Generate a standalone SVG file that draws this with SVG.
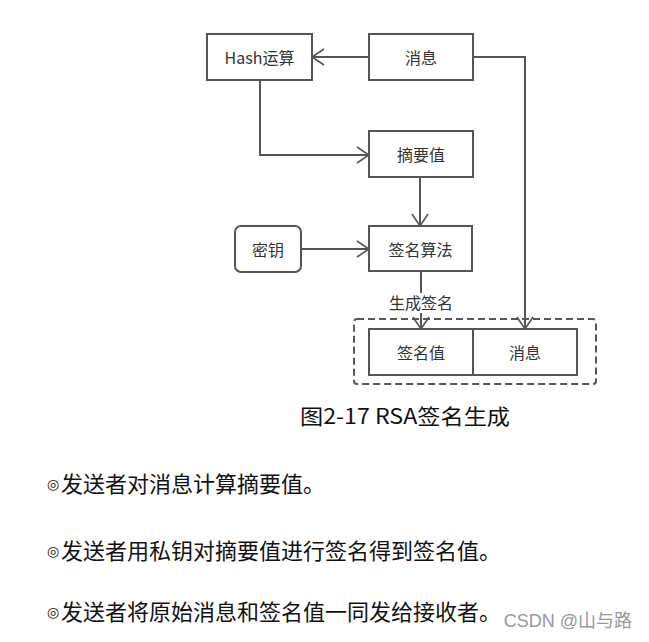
<svg xmlns="http://www.w3.org/2000/svg" width="649" height="642" viewBox="0 0 649 642">
<defs>
<style>
.box{fill:#fff;stroke:#555;stroke-width:2}
.lbl{font-family:"Noto Sans CJK SC","Noto Sans",sans-serif;font-size:16px;fill:#333;text-anchor:middle;dominant-baseline:central}
.ln{fill:none;stroke:#555;stroke-width:2}
.body{font-family:"Noto Sans CJK SC","Noto Sans",sans-serif;font-size:22px;fill:#111}
.bul{font-family:"DejaVu Sans","Noto Sans CJK SC",sans-serif;font-size:14px;fill:#222}
</style>
<marker id="ah" viewBox="0 0 14 18" refX="13" refY="9" markerWidth="14" markerHeight="18" markerUnits="userSpaceOnUse" orient="auto">
<path d="M1,1 L13,9 L1,17" fill="none" stroke="#555" stroke-width="1.6"/>
</marker>
</defs>
<rect width="649" height="642" fill="#fff"/>
<g id="connectors">
<line class="ln" x1="369" y1="57" x2="312" y2="57" marker-end="url(#ah)"/>
<polyline class="ln" points="260,80 260,155 369,155" marker-end="url(#ah)"/>
<line class="ln" x1="420" y1="177" x2="420" y2="226" marker-end="url(#ah)"/>
<line class="ln" x1="301" y1="249" x2="369" y2="249" marker-end="url(#ah)"/>
<line class="ln" x1="421" y1="271" x2="421" y2="293"/>
<line class="ln" x1="421" y1="313" x2="421" y2="329" marker-end="url(#ah)"/>
<polyline class="ln" points="473,57 525,57 525,329" marker-end="url(#ah)"/>
</g>
<g id="hash"><rect class="box" x="207" y="34" width="105" height="46"/><text class="lbl" x="259.5" y="57">Hash运算</text></g>
<g id="msg"><rect class="box" x="369" y="34" width="104" height="46"/><text class="lbl" x="421" y="57">消息</text></g>
<g id="digest"><rect class="box" x="369" y="131" width="104" height="46"/><text class="lbl" x="421" y="154">摘要值</text></g>
<g id="key"><rect class="box" x="235" y="226" width="66" height="46" rx="6"/><text class="lbl" x="268" y="249">密钥</text></g>
<g id="sigalg"><rect class="box" x="369" y="226" width="103" height="45"/><text class="lbl" x="420.5" y="248.5">签名算法</text></g>
<text class="lbl" x="421" y="302">生成签名</text>
<g id="output">
<rect x="354" y="319" width="242" height="65" fill="none" stroke="#555" stroke-width="2" stroke-dasharray="7,4" rx="3"/>
<g id="sigval"><rect class="box" x="369" y="329" width="104" height="46"/><text class="lbl" x="421" y="352">签名值</text></g>
<g id="msg2"><rect class="box" x="473" y="329" width="104" height="46"/><text class="lbl" x="525" y="352">消息</text></g>
</g>
<text x="300" y="424" font-family="'Noto Sans CJK SC','Noto Sans',sans-serif" font-size="21" fill="#111" textLength="210" lengthAdjust="spacingAndGlyphs">图2-17 RSA签名生成</text>
<g>
<text class="bul" x="47" y="489">◎</text>
<text class="body" x="61" y="492">发送者对消息计算摘要值。</text>
<text class="bul" x="47" y="556">◎</text>
<text class="body" x="61" y="559">发送者用私钥对摘要值进行签名得到签名值。</text>
<text class="bul" x="47" y="617">◎</text>
<text class="body" x="61" y="620">发送者将原始消息和签名值一同发给接收者。</text>
</g>
<text x="632" y="627" font-family="'Liberation Sans','Noto Sans CJK SC',sans-serif" font-size="18" fill="#999" text-anchor="end">CSDN @山与路</text>
</svg>
